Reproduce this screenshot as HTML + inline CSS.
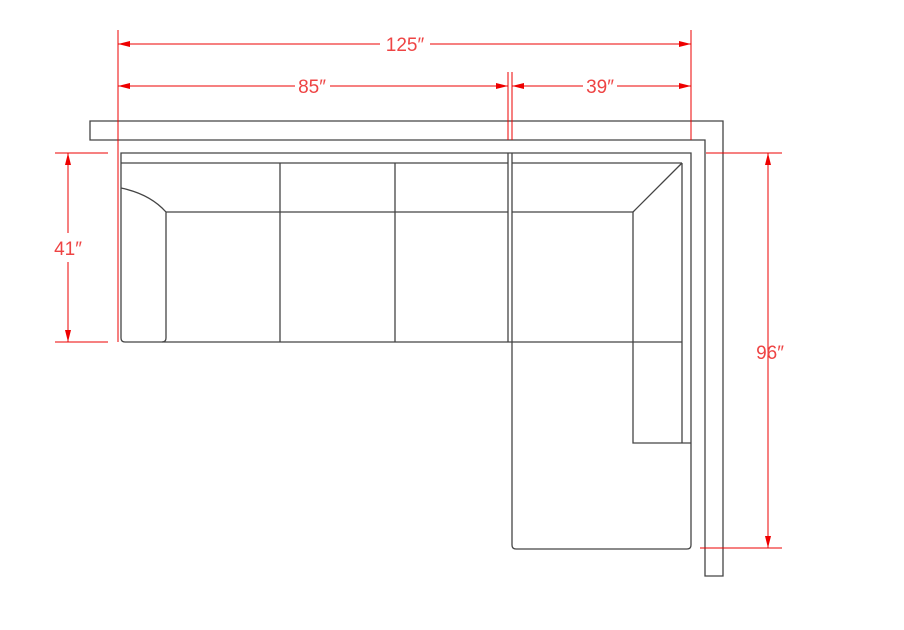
<!DOCTYPE html>
<html><head><style>body{margin:0;background:#fff}svg{display:block}</style></head><body>
<svg width="904" height="630" viewBox="0 0 904 630" xmlns="http://www.w3.org/2000/svg">
<defs>
<marker id="a" viewBox="0 0 12 6" refX="12" refY="3" markerWidth="12" markerHeight="6" orient="auto-start-reverse" markerUnits="userSpaceOnUse"><path d="M0,0 L12,3 L0,6z" fill="#e00"/></marker>
</defs>
<g fill="none" stroke="#444" stroke-width="1.3">
<!-- wall -->
<path d="M90,121 H723 V576 H705 V140 H90 Z"/>
<!-- sofa outer -->
<path d="M121,153 H691 V545 Q691,549 687,549 H516 Q512,549 512,545 V342 H125 Q121,342 121,338 Z"/>
<line x1="121" y1="163" x2="508" y2="163"/>
<line x1="512" y1="163" x2="682" y2="163"/>
<line x1="508" y1="153" x2="508" y2="342"/>
<line x1="512" y1="153" x2="512" y2="342"/>
<path d="M121,188 Q150,194 166,212 V338 Q166,342 162,342"/>
<line x1="166" y1="212" x2="508" y2="212"/>
<line x1="512" y1="212" x2="633" y2="212"/>
<line x1="280" y1="163" x2="280" y2="342"/>
<line x1="395" y1="163" x2="395" y2="342"/>
<line x1="633" y1="212" x2="682" y2="163"/>
<line x1="682" y1="163" x2="682" y2="443"/>
<path d="M633,212 V443 H691"/>
<line x1="512" y1="342" x2="682" y2="342"/>
</g>
<g stroke="#e00" stroke-width="1" fill="none">
<line x1="118" y1="30" x2="118" y2="342"/>
<line x1="691" y1="30" x2="691" y2="140"/>
<line x1="508" y1="72" x2="508" y2="140"/>
<line x1="512" y1="72" x2="512" y2="140"/>
<line x1="118" y1="44" x2="380" y2="44" marker-start="url(#a)"/>
<line x1="430" y1="44" x2="691" y2="44" marker-end="url(#a)"/>
<line x1="118" y1="86" x2="295" y2="86" marker-start="url(#a)"/>
<line x1="330" y1="86" x2="508" y2="86" marker-end="url(#a)"/>
<line x1="512" y1="86" x2="583" y2="86" marker-start="url(#a)"/>
<line x1="617" y1="86" x2="691" y2="86" marker-end="url(#a)"/>
<line x1="55" y1="153" x2="108" y2="153"/>
<line x1="55" y1="342" x2="108" y2="342"/>
<line x1="68" y1="153" x2="68" y2="233" marker-start="url(#a)"/>
<line x1="68" y1="262" x2="68" y2="342" marker-end="url(#a)"/>
<line x1="706" y1="153" x2="782" y2="153"/>
<line x1="700" y1="548" x2="782" y2="548"/>
<line x1="768" y1="153" x2="768" y2="548" marker-start="url(#a)" marker-end="url(#a)"/>
</g>
<g fill="#e44" font-family="Liberation Sans, sans-serif" font-size="19" text-anchor="middle">
<text x="405" y="51">125″</text>
<text x="312" y="93">85″</text>
<text x="600" y="93">39″</text>
<text x="68" y="255">41″</text>
<text x="770" y="359">96″</text>
</g>
</svg>
</body></html>
